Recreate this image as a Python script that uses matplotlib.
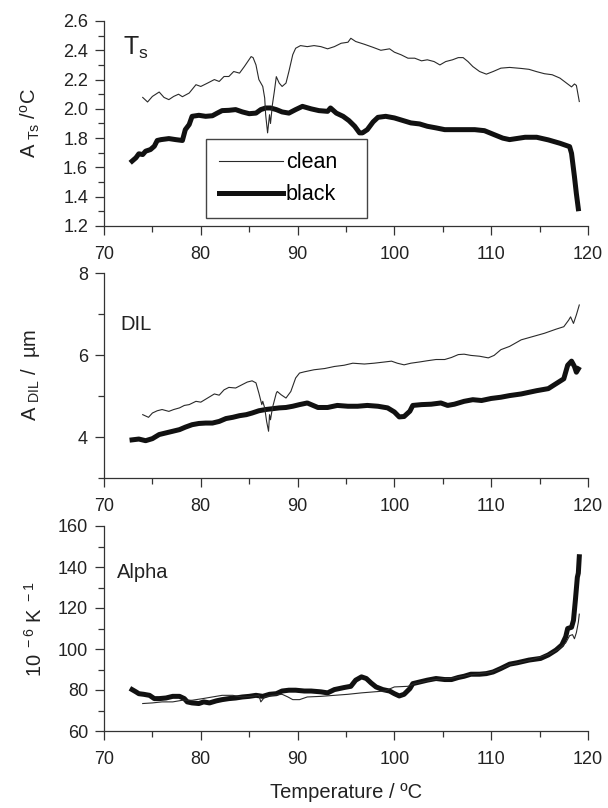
import numpy as np
import matplotlib
matplotlib.use('Agg')
from matplotlib import pyplot as plt
from matplotlib.ticker import MultipleLocator, FormatStrFormatter

plt.rcParams['font.family'] = ['Liberation Sans', 'DejaVu Sans']
plt.rcParams['mathtext.default'] = 'regular'

# ---- panel 1: A_Ts ----
ts_clean_t = [74.0, 74.5, 75.0, 75.7, 76.2, 76.7, 77.2, 77.7, 78.1, 78.8, 79.5, 80.0, 80.7, 81.4,
              81.9, 82.4, 82.9, 83.4, 84.0, 84.5, 85.2, 85.4, 85.7, 86.0, 86.4, 86.6, 86.7, 86.9,
              87.1, 87.2, 87.4, 87.6, 87.8, 88.1, 88.4, 88.8, 89.1, 89.5, 89.8, 90.3, 91.0, 91.7,
              92.4, 93.1, 93.8, 94.5, 95.2, 95.5, 96.0, 96.9, 97.8, 98.6, 99.5, 100.0, 100.7,
              101.4, 102.1, 102.8, 103.4, 104.1, 104.7, 105.3, 106.0, 106.6, 107.1, 107.6, 108.1,
              108.8, 109.5, 110.2, 111.0, 111.9, 113.1, 113.9, 114.7, 115.5, 116.3, 117.1, 117.7,
              118.3, 118.6, 118.8, 119.1]
ts_clean_v = [2.078, 2.047, 2.085, 2.115, 2.078, 2.063, 2.085, 2.10, 2.083, 2.108, 2.165, 2.153,
              2.176, 2.20, 2.187, 2.221, 2.221, 2.255, 2.244, 2.289, 2.357, 2.35, 2.30, 2.20, 2.153,
              2.074, 1.96, 1.836, 1.96, 1.90, 2.03, 2.12, 2.22, 2.176, 2.153, 2.176, 2.255, 2.37,
              2.414, 2.432, 2.425, 2.432, 2.425, 2.41, 2.425, 2.448, 2.455, 2.482, 2.46, 2.441,
              2.42, 2.40, 2.41, 2.387, 2.369, 2.346, 2.346, 2.328, 2.335, 2.323, 2.30, 2.323, 2.335,
              2.35, 2.35, 2.323, 2.289, 2.255, 2.237, 2.255, 2.278, 2.283, 2.276, 2.27, 2.254, 2.24,
              2.233, 2.21, 2.18, 2.15, 2.17, 2.16, 2.05]
ts_black_t = [72.9, 73.3, 73.6, 74.0, 74.3, 74.8, 75.2, 75.5, 75.9, 76.7, 77.4, 78.1, 78.4, 78.8,
              79.1, 79.8, 80.5, 81.2, 81.7, 82.2, 82.9, 83.6, 84.3, 85.0, 85.7, 86.2, 86.7, 87.2,
              87.8, 88.4, 89.1, 89.8, 90.5, 91.4, 92.2, 93.1, 93.4, 94.0, 94.7, 95.3, 95.9, 96.4,
              96.7, 97.2, 97.8, 98.3, 99.1, 100.0, 100.9, 101.7, 102.6, 103.4, 104.3, 105.2, 106.2,
              107.2, 108.3, 109.3, 110.3, 111.2, 111.9, 113.5, 114.7, 115.9, 117.1, 118.1, 118.3,
              118.6, 118.8, 119.0]
ts_black_v = [1.643, 1.666, 1.693, 1.688, 1.711, 1.722, 1.745, 1.784, 1.79, 1.797, 1.79, 1.784,
              1.858, 1.893, 1.949, 1.956, 1.949, 1.953, 1.971, 1.988, 1.99, 1.995, 1.979, 1.967,
              1.971, 1.995, 2.006, 2.006, 1.995, 1.979, 1.971, 1.995, 2.017, 2.0, 1.988, 1.983,
              2.006, 1.971, 1.949, 1.92, 1.881, 1.836, 1.836, 1.858, 1.911, 1.942, 1.949, 1.938,
              1.92, 1.904, 1.897, 1.881, 1.87, 1.858, 1.858, 1.858, 1.858, 1.851, 1.824, 1.80, 1.79,
              1.806, 1.806, 1.788, 1.765, 1.742, 1.696, 1.537, 1.42, 1.318]

# ---- panel 2: A_DIL ----
dil_clean_t = [74.0, 74.6, 75.0, 75.5, 76.0, 76.7, 77.2, 77.8, 78.3, 78.8, 79.5, 80.0, 80.7, 81.4,
               81.9, 82.4, 82.9, 83.6, 84.3, 84.8, 85.3, 85.7, 86.0, 86.3, 86.4, 86.6, 86.8, 87.0,
               87.1, 87.2, 87.4, 87.8, 87.9, 88.3, 88.8, 89.3, 89.8, 90.2, 90.7, 91.7, 92.8, 93.8,
               94.8, 95.7, 96.9, 97.9, 99.0, 99.7, 100.3, 101.0, 101.7, 102.6, 103.4, 104.3, 105.2,
               105.9, 106.6, 107.2, 107.9, 108.8, 109.7, 110.3, 111.0, 111.9, 113.1, 114.3, 115.5,
               116.7, 117.5, 118.0, 118.2, 118.5, 118.8, 119.1]
dil_clean_v = [4.545, 4.48, 4.585, 4.64, 4.67, 4.625, 4.67, 4.71, 4.77, 4.79, 4.87, 4.85, 4.95,
               5.05, 5.02, 5.15, 5.21, 5.195, 5.28, 5.34, 5.37, 5.32, 5.07, 4.79, 4.87, 4.71, 4.38,
               4.14, 4.545, 4.42, 4.71, 5.07, 5.11, 5.03, 4.95, 5.11, 5.44, 5.56, 5.59, 5.64, 5.67,
               5.72, 5.75, 5.80, 5.78, 5.80, 5.83, 5.85, 5.80, 5.76, 5.80, 5.83, 5.86, 5.89, 5.89,
               5.94, 6.01, 6.02, 5.99, 5.97, 5.93, 5.99, 6.13, 6.21, 6.37, 6.45, 6.53, 6.63, 6.69,
               6.85, 6.93, 6.77, 6.98, 7.22]
dil_black_t = [72.9, 73.6, 74.3, 75.0, 75.7, 76.4, 77.1, 77.8, 78.4, 79.1, 79.8, 80.5, 81.2, 81.9,
               82.6, 83.3, 84.0, 84.7, 85.3, 86.0, 86.7, 87.4, 88.1, 88.8, 89.5, 90.2, 91.0, 92.1,
               93.1, 94.1, 95.2, 96.2, 97.2, 98.3, 99.3, 100.0, 100.5, 101.0, 101.6, 101.9, 102.8,
               103.8, 104.8, 105.5, 106.2, 107.2, 108.1, 109.0, 110.0, 111.0, 111.9, 113.1, 114.7,
               115.9, 116.7, 117.5, 117.9, 118.3, 118.6, 118.8, 119.0]
dil_black_v = [3.93, 3.95, 3.91, 3.96, 4.06, 4.10, 4.14, 4.18, 4.24, 4.30, 4.33, 4.34, 4.34, 4.38,
               4.45, 4.48, 4.52, 4.545, 4.585, 4.64, 4.67, 4.69, 4.71, 4.72, 4.75, 4.79, 4.83, 4.72,
               4.72, 4.77, 4.75, 4.75, 4.77, 4.75, 4.71, 4.61, 4.49, 4.50, 4.63, 4.77, 4.79, 4.80,
               4.83, 4.77, 4.80, 4.87, 4.91, 4.89, 4.94, 4.97, 5.01, 5.05, 5.13, 5.18, 5.30, 5.42,
               5.75, 5.85, 5.72, 5.58, 5.66]

# ---- panel 3: Alpha ----
al_clean_t = [74.0, 75.0, 76.0, 77.1, 78.1, 79.1, 80.2, 81.2, 82.2, 83.3, 84.3, 85.3, 86.0, 86.2,
              86.6, 87.4, 88.4, 89.0, 89.5, 90.2, 91.0, 92.4, 93.8, 95.2, 96.6, 97.9, 99.0, 100.0,
              101.4, 102.1, 104.0, 106.0, 108.0, 110.0, 112.0, 114.0, 116.0, 117.0, 117.7, 118.1,
              118.4, 118.6, 118.8, 119.0, 119.1]
al_clean_v = [73.4, 73.7, 74.2, 74.2, 75.0, 75.0, 75.8, 76.6, 77.4, 77.4, 76.6, 76.9, 77.4, 74.2,
              76.6, 77.4, 77.9, 76.6, 75.3, 75.3, 76.6, 76.9, 77.4, 77.9, 78.6, 79.1, 79.5, 81.5,
              81.8, 83.1, 85.0, 85.8, 87.5, 88.7, 92.5, 94.5, 97.5, 100.0, 103.0, 106.5, 107.0,
              105.0, 108.0, 113.0, 117.0]
al_black_t = [72.9, 73.3, 73.6, 74.1, 74.7, 75.2, 75.7, 76.4, 77.1, 77.8, 78.3, 78.6, 79.1, 79.8,
              80.3, 80.9, 81.6, 82.2, 82.9, 83.6, 84.3, 85.0, 85.7, 86.4, 87.1, 87.8, 88.4, 89.1,
              89.8, 90.7, 91.4, 92.4, 93.1, 93.8, 94.8, 95.5, 96.0, 96.6, 97.1, 97.6, 98.1, 98.8,
              99.5, 100.0, 100.5, 101.0, 101.6, 101.9, 102.6, 103.4, 104.3, 105.2, 105.9, 106.6,
              107.2, 107.9, 108.8, 109.5, 110.2, 111.0, 111.9, 112.7, 113.9, 115.1, 115.9, 116.7,
              117.3, 117.7, 117.9, 118.3, 118.5, 118.7, 118.9, 119.0, 119.1]
al_black_v = [80.2, 79.1, 78.2, 77.9, 77.4, 75.8, 75.8, 76.1, 76.9, 76.9, 75.8, 74.2, 73.7, 73.4,
              74.2, 73.7, 74.7, 75.3, 75.8, 76.1, 76.6, 76.9, 77.4, 76.9, 77.9, 78.2, 79.5, 79.9,
              79.9, 79.5, 79.5, 79.1, 78.6, 80.2, 81.2, 81.8, 84.8, 86.4, 85.6, 83.4, 81.5, 80.2,
              79.5, 78.2, 77.1, 77.9, 80.7, 83.1, 83.9, 84.8, 85.6, 85.1, 85.1, 86.1, 86.7, 87.7,
              87.7, 88.0, 88.8, 90.5, 92.6, 93.3, 94.6, 95.4, 97.1, 99.5, 102.0, 106.0, 110.0,
              110.6, 114.0, 124.0, 135.0, 137.0, 145.0]

FS = 14.5      # axis labels / annotations
TFS = 13       # tick labels
INK = '#222222'

fig = plt.figure(figsize=(6.08, 8.08), dpi=100)
left, width, height = 104 / 608, 484 / 608, 205 / 808
bottoms = [1 - 226 / 808, 1 - 478 / 808, 1 - 731 / 808]
axes = [fig.add_axes([left, b, width, height]) for b in bottoms]

panels = [
    (ts_clean_t, ts_clean_v, ts_black_t, ts_black_v, (1.2, 2.6), 0.2, 0.1,
     r'A$_{\ Ts}$ /$^{o}$C', -0.128),
    (dil_clean_t, dil_clean_v, dil_black_t, dil_black_v, (3, 8), 2, 1,
     r'A$_{\ DIL}$ /  µm', -0.128),
    (al_clean_t, al_clean_v, al_black_t, al_black_v, (60, 160), 20, 10,
     r'10$^{\ -6}$ K$^{\ -1}$', -0.12),
]

for ax, (ct, cv, bt, bv, ylim, maj, mnr, ylab, labx) in zip(axes, panels):
    ax.plot(ct, cv, color='#2a2a2a', lw=0.8, label='clean', zorder=3)
    ax.plot(bt, bv, color='#111111', lw=3.6, label='black', zorder=2)
    ax.set_xlim(70, 120)
    ax.set_ylim(*ylim)
    ax.xaxis.set_major_locator(MultipleLocator(10))
    ax.xaxis.set_minor_locator(MultipleLocator(5))
    ax.yaxis.set_major_locator(MultipleLocator(maj))
    ax.yaxis.set_minor_locator(MultipleLocator(mnr))
    for s in ('top', 'right'):
        ax.spines[s].set_visible(False)
    for s in ('left', 'bottom'):
        ax.spines[s].set_color('#333333')
        ax.spines[s].set_linewidth(0.9)
    ax.tick_params(which='both', direction='out', width=0.9, color='#333333',
                   labelsize=TFS, labelcolor=INK)
    ax.tick_params(which='major', length=6.5)
    ax.tick_params(which='minor', length=4)
    ax.tick_params(axis='y', pad=5)
    ax.tick_params(axis='x', pad=8)
    ax.set_ylabel(ylab, fontsize=FS, color=INK)
    ax.yaxis.set_label_coords(labx, 0.5)

axes[0].yaxis.set_major_formatter(FormatStrFormatter('%.1f'))

axes[0].text(71.96, 2.368, r'T$_s$', fontsize=18, color=INK, va='baseline')
axes[1].text(71.7, 6.62, 'DIL', fontsize=FS, color=INK, va='baseline')
axes[2].text(71.3, 134.5, 'Alpha', fontsize=FS, color=INK, va='baseline')

leg = axes[0].legend(loc='lower left', bbox_to_anchor=(0.211, 0.039, 0.332, 0.385),
                     mode='expand', borderaxespad=0, fontsize=15.5, handlelength=2.95,
                     handletextpad=0.15, labelspacing=0.5, borderpad=0.6,
                     fancybox=False, framealpha=1)
leg.get_frame().set_edgecolor('#444444')
leg.get_frame().set_linewidth(1.0)

axes[2].set_xlabel('Temperature / ºC', fontsize=FS, color=INK, labelpad=11)

fig.savefig('out.png', dpi=100)
